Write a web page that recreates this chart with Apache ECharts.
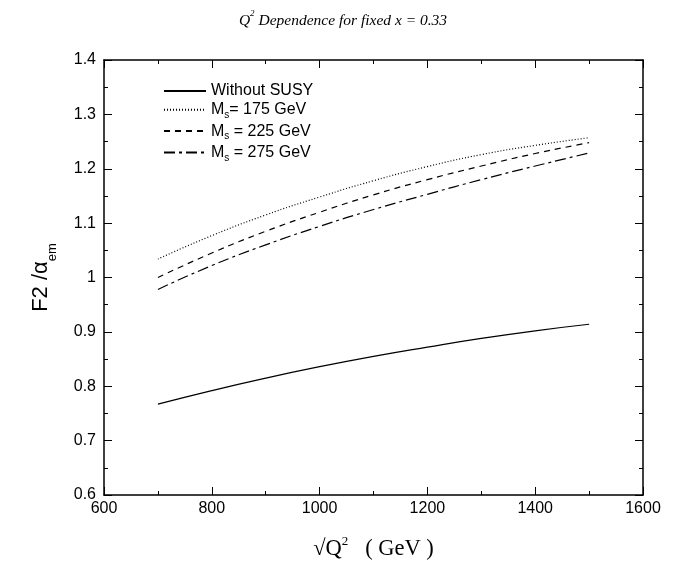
<!DOCTYPE html>
<html>
<head>
<meta charset="utf-8">
<script src="https://cdn.jsdelivr.net/npm/echarts@6/dist/echarts.min.js"></script>
<style>
  html, body { margin: 0; padding: 0; background: #fff; }
  #chart { width: 686px; height: 566px; }
</style>
</head>
<body>
<div id="chart"></div>
<script>
// sqrt(Q^2) in GeV
const qValues = [700, 800, 900, 1000, 1100, 1200, 1300, 1400, 1500];

const withoutSusy = [0.767, 0.792, 0.815, 0.836, 0.855, 0.872, 0.888, 0.902, 0.914];
const ms175 = [1.034, 1.077, 1.115, 1.148, 1.178, 1.204, 1.226, 1.243, 1.257];
const ms225 = [1.000, 1.045, 1.085, 1.120, 1.152, 1.180, 1.205, 1.228, 1.248];
const ms275 = [0.978, 1.022, 1.060, 1.094, 1.125, 1.153, 1.180, 1.205, 1.229];

const seriesNames = ['Without SUSY', 'Ms 175', 'Ms 225', 'Ms 275'];
const legendLabels = {
    'Without SUSY': '{t|Without SUSY}',
    'Ms 175': '{t|M}{sub|s}{t|= 175 GeV}',
    'Ms 225': '{t|M}{sub|s}{t| = 225 GeV}',
    'Ms 275': '{t|M}{sub|s}{t| = 275 GeV}'
};

const pairs = (ys) => qValues.map((x, i) => [x, ys[i]]);

const chart = echarts.init(document.getElementById('chart'));

const tickFont = { fontFamily: 'Liberation Sans', fontSize: 16, color: '#000' };
const axisLine = { lineStyle: { color: '#000', width: 1.5 } };

function lineSeries(name, ys, type) {
    return {
        name: name,
        type: 'line',
        data: pairs(ys),
        smooth: true,
        symbol: 'none',
        lineStyle: { color: '#000', width: 1.2, type: type },
        itemStyle: { color: '#000' }
    };
}

const option = {
    animation: false,
    backgroundColor: '#fff',
    title: {
        text: '{i|Q}{sup|2}{i| Dependence for fixed x = 0.33}',
        left: 'center',
        top: 4,
        textStyle: {
            rich: {
                i: { fontFamily: 'Liberation Serif', fontStyle: 'italic', fontWeight: 'normal', fontSize: 15.5, color: '#000', verticalAlign: 'bottom', lineHeight: 20 },
                sup: { fontFamily: 'Liberation Serif', fontStyle: 'italic', fontWeight: 'normal', fontSize: 9, color: '#000', verticalAlign: 'top', lineHeight: 8 }
            }
        }
    },
    legend: {
        orient: 'vertical',
        left: 158,
        top: 78,
        itemWidth: 42,
        itemHeight: 14,
        itemGap: 2.8,
        data: seriesNames,
        itemStyle: { opacity: 0 },
        formatter: (name) => legendLabels[name],
        textStyle: {
            rich: {
                t: { fontFamily: 'Liberation Sans', fontSize: 16, color: '#000', verticalAlign: 'top', padding: [3, 0, 3, 0] },
                sub: { fontFamily: 'Liberation Sans', fontSize: 10, color: '#000', verticalAlign: 'top', padding: [11.5, 0, 0, 0] }
            }
        }
    },
    grid: { left: 104, right: 43, top: 60, bottom: 70 },
    xAxis: [
        {
            type: 'value',
            min: 600,
            max: 1600,
            interval: 200,
            name: '{t|√Q}{sup|2}{t|   ( GeV )}',
            nameLocation: 'middle',
            nameGap: 40,
            nameTextStyle: {
                rich: {
                    t: { fontFamily: 'Liberation Serif', fontSize: 22.5, color: '#000', verticalAlign: 'bottom', lineHeight: 26 },
                    sup: { fontFamily: 'Liberation Serif', fontSize: 13, color: '#000', verticalAlign: 'top', lineHeight: 12 }
                }
            },
            axisLine: axisLine,
            axisTick: { inside: true, length: 8, lineStyle: { color: '#000' } },
            minorTick: { show: true, splitNumber: 2, length: 4, lineStyle: { color: '#000' } },
            axisLabel: Object.assign({ margin: 6, formatter: (v) => String(v) }, tickFont),
            splitLine: { show: false }
        },
        {
            type: 'value',
            position: 'top',
            min: 600,
            max: 1600,
            interval: 200,
            axisLine: axisLine,
            axisTick: { inside: true, length: 8, lineStyle: { color: '#000' } },
            minorTick: { show: true, splitNumber: 2, length: 4, lineStyle: { color: '#000' } },
            axisLabel: { show: false },
            splitLine: { show: false }
        }
    ],
    yAxis: [
        {
            type: 'value',
            min: 0.6,
            max: 1.4,
            interval: 0.1,
            name: '{t|F2 /α}{sub|em}',
            nameLocation: 'middle',
            nameGap: 45,
            nameRotate: 90,
            nameTextStyle: {
                rich: {
                    t: { fontFamily: 'Liberation Sans', fontSize: 22, color: '#000', verticalAlign: 'top', lineHeight: 26 },
                    sub: { fontFamily: 'Liberation Sans', fontSize: 13, color: '#000', verticalAlign: 'top', padding: [16, 0, 0, 0] }
                }
            },
            axisLine: axisLine,
            axisTick: { inside: true, length: 8, lineStyle: { color: '#000' } },
            minorTick: { show: true, splitNumber: 2, length: 4, lineStyle: { color: '#000' } },
            axisLabel: Object.assign({ margin: 8 }, tickFont),
            splitLine: { show: false }
        },
        {
            type: 'value',
            position: 'right',
            min: 0.6,
            max: 1.4,
            interval: 0.1,
            axisLine: axisLine,
            axisTick: { inside: true, length: 8, lineStyle: { color: '#000' } },
            minorTick: { show: true, splitNumber: 2, length: 4, lineStyle: { color: '#000' } },
            axisLabel: { show: false },
            splitLine: { show: false }
        }
    ],
    series: [
        lineSeries('Without SUSY', withoutSusy, 'solid'),
        lineSeries('Ms 175', ms175, [1, 2]),
        lineSeries('Ms 225', ms225, [6, 5]),
        lineSeries('Ms 275', ms275, [11, 4, 3, 4])
    ]
};

chart.setOption(option);
</script>
</body>
</html>
